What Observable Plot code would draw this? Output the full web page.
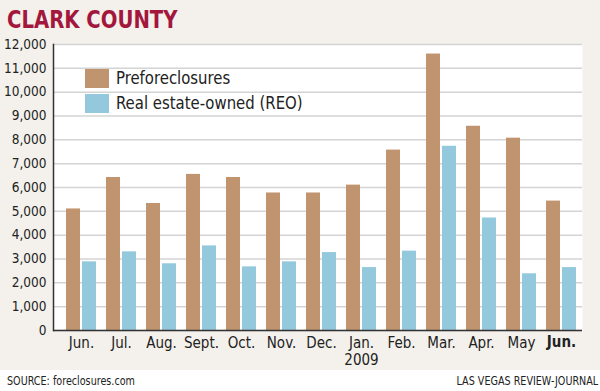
<!DOCTYPE html>
<html>
<head>
<meta charset="utf-8">
<script src="https://cdn.jsdelivr.net/npm/d3@7"></script>
<script src="https://cdn.jsdelivr.net/npm/@observablehq/plot@0.6"></script>
<style>
  html, body { margin: 0; padding: 0; background: #ffffff; }
  #wrap { position: relative; width: 600px; height: 391px; background: #f4f1ec; overflow: hidden;
          font-family: "DejaVu Sans Condensed", "Liberation Sans Narrow", sans-serif; }
  #title { position: relative; height: 30px; }
  #title span { position: absolute; left: 7px; top: 6px; font-size: 24px; font-weight: bold; color: #a3173d; line-height: normal;
                white-space: nowrap; transform: scaleX(0.91); transform-origin: left center; }
  #chart { height: 348px; }
  #footer { position: absolute; left: 0; top: 370px; width: 600px; height: 21px; background: #ffffff;
            font-size: 12px; color: #222; line-height: 22px; }
  #footer .l { position: absolute; left: 7px; top: 0; white-space: nowrap; transform: scaleX(0.89); transform-origin: left center; }
  #footer .r { position: absolute; right: 2px; top: 0; white-space: nowrap; transform: scaleX(0.89); transform-origin: right center; }
  #legend { position: absolute; left: 85px; top: 69px; font-size: 18px; color: #222; }
  #legend .item { position: relative; height: 25px; }
  #legend .sw { position: absolute; left: 0; top: 0; width: 24px; height: 19px; }
  #legend .tx { position: absolute; left: 31px; top: -2px; line-height: normal; white-space: nowrap;
                transform: scaleX(0.92); transform-origin: left center; }
</style>
</head>
<body>
<div id="wrap">
  <div id="title"><span>CLARK COUNTY</span></div>
  <div id="chart"></div>
  <div id="legend"></div>
  <div id="footer"><span class="l">SOURCE: foreclosures.com</span><span class="r">LAS VEGAS REVIEW-JOURNAL</span></div>
</div>
<script>
// ---- data ----
const monthKeys = ["2008-06","2008-07","2008-08","2008-09","2008-10","2008-11","2008-12","2009-01","2009-02","2009-03","2009-04","2009-05","2009-06"];
const monthLabels = ["Jun.","Jul.","Aug.","Sept.","Oct.","Nov.","Dec.","Jan.\n2009","Feb.","Mar.","Apr.","May","Jun."];
const boldLabel = [false,false,false,false,false,false,false,false,false,false,false,false,true];
const preforeclosures = [5100, 6420, 5330, 6550, 6420, 5770, 5770, 6100, 7570, 11600, 8570, 8070, 5430];
const reo = [2880, 3300, 2800, 3550, 2670, 2880, 3270, 2640, 3330, 7730, 4720, 2380, 2640];
const seriesNames = ["Preforeclosures", "Real estate-owned (REO)"];
const seriesColors = ["#c0946f", "#94c9dd"];
const yTicks = [0,1000,2000,3000,4000,5000,6000,7000,8000,9000,10000,11000,12000];

const rows = monthKeys.map((k, i) => ({key: k, label: monthLabels[i], bold: boldLabel[i], pre: preforeclosures[i], reo: reo[i]}));

const chart = Plot.plot({
  width: 600,
  height: 348,
  marginTop: 14,
  marginBottom: 48,
  marginLeft: 53,
  marginRight: 18,
  style: {background: "transparent", fontFamily: "'DejaVu Sans Condensed', sans-serif", color: "#222"},
  x: {domain: monthKeys, range: [66, 576], paddingInner: 0.25, paddingOuter: 0, axis: null},
  y: {domain: [0, 12000], axis: null},
  marks: [
    Plot.frame({fill: "white", stroke: null}),
    Plot.gridY(yTicks, {stroke: "#d4d4d4", strokeOpacity: 1, strokeWidth: 1.5}),
    Plot.barY(rows, {x: "key", y: "pre", fill: seriesColors[0], insetRight: 16}),
    Plot.barY(rows, {x: "key", y: "reo", fill: seriesColors[1], insetLeft: 16}),
    Plot.axisY(yTicks, {tickSize: 0, tickPadding: 7, tickFormat: d3.format(","), fontSize: 13.5, fill: "#222"}),
    Plot.frame({anchor: "left", stroke: "#333", strokeWidth: 1.5}),
    Plot.ruleY([0], {stroke: "#333", strokeWidth: 1.5}),
    Plot.text(rows, {filter: d => !d.bold, x: "key", text: "label", frameAnchor: "bottom", lineAnchor: "top", dy: 6, fontSize: 15, lineHeight: 1.12, fill: "#222"}),
    Plot.text(rows, {filter: d => d.bold, x: "key", text: "label", frameAnchor: "bottom", lineAnchor: "top", dy: 6, fontSize: 15, fontWeight: "bold", fill: "#222"})
  ]
});
document.getElementById("chart").appendChild(chart);

const legend = document.getElementById("legend");
seriesNames.forEach((name, i) => {
  const item = document.createElement("div");
  item.className = "item";
  item.innerHTML = `<div class="sw" style="background:${seriesColors[i]}"></div><div class="tx">${name}</div>`;
  legend.appendChild(item);
});
</script>
</body>
</html>
